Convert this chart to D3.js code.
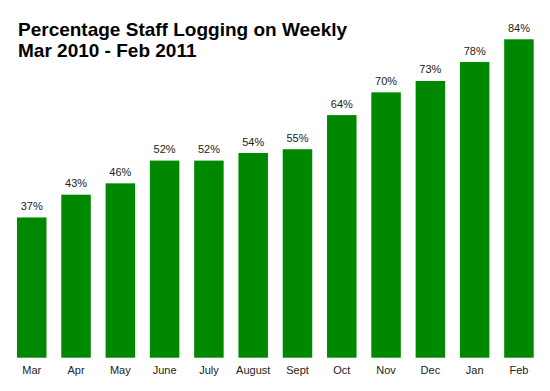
<!DOCTYPE html>
<html><head><meta charset="utf-8">
<script src="https://cdn.jsdelivr.net/npm/d3@7"></script>
<style>body{margin:0;background:#fff}svg{display:block}</style>
</head><body>
<svg id="c" width="550" height="391"></svg>
<script>
const months = ["Mar","Apr","May","June","July","August","Sept","Oct","Nov","Dec","Jan","Feb"];
const values = [37,43,46,52,52,54,55,64,70,73,78,84];
const titleLines = ["Percentage Staff Logging on Weekly","Mar 2010 - Feb 2011"];

const svg = d3.select("#c");
const font = "'Liberation Sans', Arial, sans-serif";
const x = d3.scaleBand().domain(months).range([9.6, 541.1]).paddingInner(0.334).paddingOuter(0.167);
const y = d3.scaleLinear().domain([0, 84]).range([357.7, 39.3]);

svg.selectAll("rect.bar").data(values).join("rect")
  .attr("class","bar")
  .attr("x",(d,i)=>x(months[i]))
  .attr("y",d=>y(d))
  .attr("width",x.bandwidth())
  .attr("height",d=>y(0)-y(d))
  .attr("fill","#008800");

svg.selectAll("text.val").data(values).join("text")
  .attr("class","val")
  .attr("x",(d,i)=>x(months[i])+x.bandwidth()/2)
  .attr("y",d=>y(d)-7.5)
  .attr("text-anchor","middle")
  .attr("font-family",font).attr("font-size",11).attr("fill","#222")
  .text(d=>d+"%");

const xAxis = d3.axisBottom(x).tickSize(0).tickPadding(0);
const g = svg.append("g").attr("transform","translate(0,366)").call(xAxis);
g.select(".domain").remove();
g.selectAll("text").attr("font-family",font).attr("font-size",11).attr("fill","#222").attr("dy","0.71em");

svg.selectAll("text.title").data(titleLines).join("text")
  .attr("class","title")
  .attr("x",18).attr("y",(d,i)=>36+i*21)
  .attr("font-family",font).attr("font-size",19).attr("font-weight","bold").attr("fill","#000")
  .text(d=>d);
</script>
</body></html>
